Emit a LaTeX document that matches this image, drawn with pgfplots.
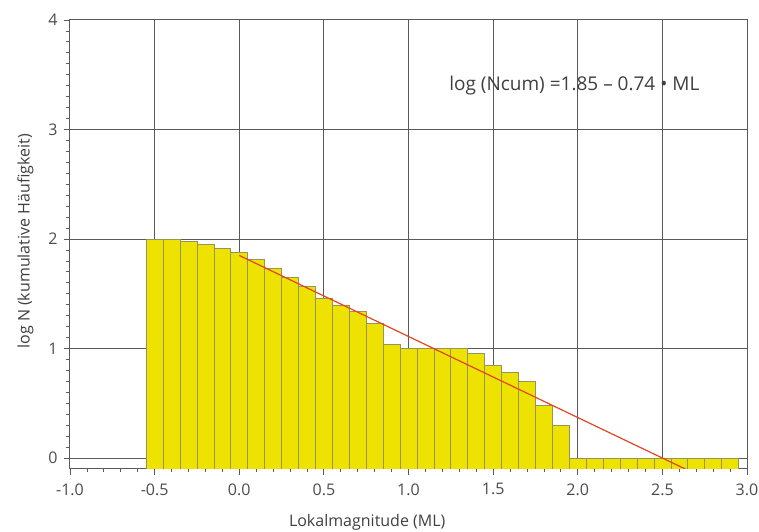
\documentclass[border=0pt]{standalone}
\usepackage{pgfplots}
\usepackage{pgfplotstable}
\pgfplotsset{compat=1.18}
\usepackage{fontspec}
\setmainfont{Open Sans}
\definecolor{baryellow}{RGB}{238,226,0}
\definecolor{baredge}{RGB}{150,148,90}
\definecolor{fitred}{RGB}{225,70,35}
\definecolor{gridgray}{RGB}{90,90,90}
\pgfplotstableread{
x h
-0.5 2.000
-0.4 2.000
-0.3 1.978
-0.2 1.949
-0.1 1.914
0.0 1.875
0.1 1.813
0.2 1.732
0.3 1.653
0.4 1.568
0.5 1.462
0.6 1.398
0.7 1.342
0.8 1.230
0.9 1.041
1.0 1.000
1.1 1.000
1.2 1.000
1.3 1.000
1.4 0.954
1.5 0.845
1.6 0.778
1.7 0.699
1.8 0.477
1.9 0.301
2.0 0
2.1 0
2.2 0
2.3 0
2.4 0
2.5 0
2.6 0
2.7 0
2.8 0
2.9 0
}\datatable
\begin{document}
\begin{tikzpicture}
\begin{axis}[
  scale only axis,
  width=677pt, height=449pt,
  xmin=-1.0, xmax=3.0,
  ymin=-0.1, ymax=4,
  y coord trafo/.code={\pgfmathparse{#1+0.1}},
  y coord inv trafo/.code={\pgfmathparse{#1-0.1}},
  xtick={-1,-0.5,0,0.5,1,1.5,2,2.5,3},
  xticklabels={-1.0,-0.5,0.0,0.5,1.0,1.5,2.0,2.5,3.0},
  ytick={0,1,2,3,4},
  yticklabels={0,1,2,3,4},
  minor x tick num=4,
  minor y tick num=9,
  tick align=outside,
  xtick pos=left, ytick pos=left,
  major tick length=6pt, minor tick length=3.5pt,
  every tick/.style={gridgray, line width=0.8pt},
  grid=major,
  major grid style={gridgray, line width=1pt},
  axis line style={gridgray, line width=1pt},
  tick label style={font=\fontsize{16}{19}\selectfont, text=black!70},
  xticklabel style={yshift=-5pt},
  yticklabel style={xshift=-3pt},
  label style={font=\fontsize{16}{19}\selectfont, text=black!75},
  xlabel={Lokalmagnitude (ML)},
  ylabel={log N (kumulative Häufigkeit)},
  xlabel style={at={(rel axis cs:0.439,-0.127)}, anchor=base},
  ylabel style={at={(rel axis cs:-0.066,0.507)}, anchor=center},
]
\addplot[ybar, bar width=0.1, bar shift=0pt, fill=baryellow, draw=baredge, line width=0.7pt] table[x=x, y=h] {\datatable};
\addplot[fitred, line width=1.2pt] coordinates {(0,1.85) (2.635,-0.1)};
\node[anchor=west, font=\fontsize{19}{22}\selectfont, text=black!75] at (rel axis cs:0.555,0.853) {log (Ncum) =1.85 -- 0.74 • ML};
\coordinate (bbsw) at (rel axis cs:-0.1034,-0.1381);
\coordinate (bbne) at (rel axis cs:1.0177,1.0445);
\end{axis}
\pgfresetboundingbox
\useasboundingbox (bbsw) rectangle (bbne);
\end{tikzpicture}
\end{document}
